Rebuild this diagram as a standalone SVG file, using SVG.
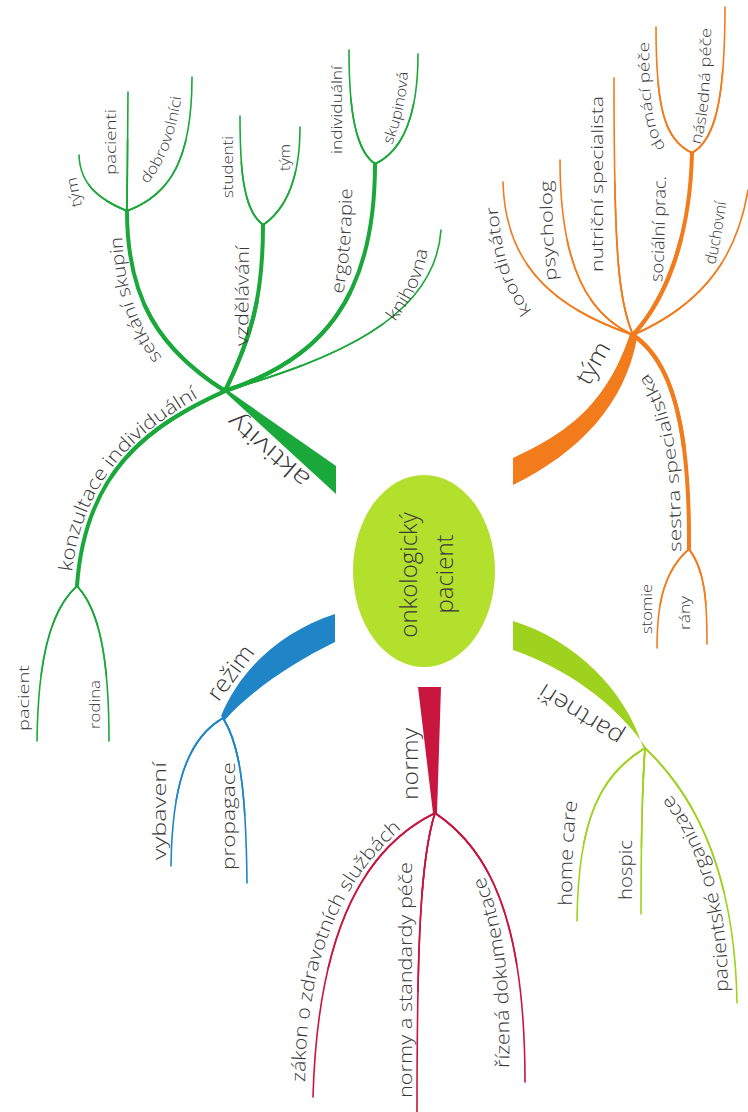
<svg xmlns="http://www.w3.org/2000/svg" xmlns:xlink="http://www.w3.org/1999/xlink" width="748" height="1112" viewBox="0 0 748 1112">
<style>
text{font-family:"Open Sans","Liberation Sans",sans-serif;fill:#3a3a3a;font-weight:300}
.br{fill:none;stroke-linecap:round}
.G{stroke:#1ba83a}.O{stroke:#f27b1b}.L{stroke:#9fd21e}.R{stroke:#c8163e}.B{stroke:#1f85c6}
.a{stroke-width:1.6}
.b{stroke-width:3;stroke-dasharray:60 300}
.c{stroke-width:4.3;stroke-dasharray:28 300}
.d{stroke-width:4}
.e{stroke-width:5.4;stroke-dasharray:55 300}
.f15{font-size:15px}.f16{font-size:16px}.f17{font-size:17px}.f18{font-size:18px}.f19{font-size:19px}.f20{font-size:20px}.f22{font-size:22px}.f24{font-size:24px}
</style>
<defs>
<path id="t-konz" d="M72,572 C84,470 145,428 208,392"/>
<path id="t-setk" d="M162,358 C138,325 124,290 122,232"/>
<path id="t-tym1" d="M82,206 L75,172"/>
<path id="t-paci" d="M116,175 L116,105"/>
<path id="t-dobr" d="M147,184 C165,165 178,130 182,90"/>
<path id="t-vzd" d="M248,346 L249,243"/>
<path id="t-stud" d="M233,198 L233,134"/>
<path id="t-tym2" d="M290,171 L290,143"/>
<path id="t-ergo" d="M343,294 C350,260 352,220 352,184"/>
<path id="t-ind" d="M342,154 L342,64"/>
<path id="t-skup" d="M392,145 C402,120 407,95 408,68"/>
<path id="t-knih" d="M395,322 C412,300 425,275 428,245"/>
<path id="t-akt" d="M322,486 L226,403"/>
<path id="t-pac" d="M29,731 L29,663"/>
<path id="t-rod" d="M100,729 L100,678"/>
<path id="t-tym" d="M587,390 L613,344"/>
<path id="t-koor" d="M532,311 C512,285 500,255 497,195"/>
<path id="t-psy" d="M557,280 C553,250 552,215 552,175"/>
<path id="t-nut" d="M603,272 L603,92"/>
<path id="t-soc" d="M662,282 C665,250 665,210 666,170"/>
<path id="t-dom" d="M666,147 C652,128 649,100 649,37"/>
<path id="t-nas" d="M700,145 C708,120 711,90 711,20"/>
<path id="t-duch" d="M715,265 C720,245 724,222 727,197"/>
<path id="t-ses" d="M681,552 C682,450 668,395 643,368"/>
<path id="t-sto" d="M652,634 L652,582"/>
<path id="t-ran" d="M690,630 L690,594"/>
<path id="t-part" d="M630,736 L540,680"/>
<path id="t-home" d="M572,906 C572,860 573,830 578,798"/>
<path id="t-hosp" d="M632,900 L632,838"/>
<path id="t-porg" d="M728,992 C728,900 705,830 662,785"/>
<path id="t-norm" d="M418,800 L418,724"/>
<path id="t-zak" d="M305,1082 C306,960 340,880 405,826"/>
<path id="t-nst" d="M412,1098 L412,858"/>
<path id="t-riz" d="M509,1068 C511,980 503,915 482,872"/>
<path id="t-rez" d="M216,706 L258,649"/>
<path id="t-vyb" d="M166,860 L166,758"/>
<path id="t-prop" d="M235,870 L235,758"/>
</defs>
<rect width="748" height="1112" fill="#ffffff"/>

<g id="connectors">
 <g id="wedges">
  <path fill="#1ba83a" d="M223,387 L336,466 L336,494 L227,394 Z"/>
  <path fill="#f27b1b" d="M513,458 C560,436 605,410 630,334 L637,338 C625,404 580,452 513,485 Z"/>
  <path fill="#9fd21e" d="M513,621 C575,640 625,690 643,747 L647,749 C615,702 565,668 513,650 Z"/>
  <path fill="#c8163e" d="M418,687 L441,687 L437,813 L433,813 Z"/>
  <path fill="#1f85c6" d="M335,614 C280,632 240,670 221,716 L225,720 C250,692 290,664 335,642 Z"/>
 </g>
 <g class="br G">
  <path id="b-konz" class="d" pathLength="100" d="M225,391 C150,425 85,470 77,586"/><use href="#b-konz" class="e"/>
  <path id="b-pac" class="a" pathLength="100" d="M77,586 C50,610 38,660 37,741"/><use href="#b-pac" class="b"/><use href="#b-pac" class="c"/>
  <path id="b-rod" class="a" pathLength="100" d="M77,586 C100,610 109,660 109,741"/><use href="#b-rod" class="b"/><use href="#b-rod" class="c"/>
  <path id="b-setk" class="d" pathLength="100" d="M225,391 C160,350 127,300 127,211"/><use href="#b-setk" class="e"/>
  <path id="b-tym1" class="a" pathLength="100" d="M127,211 C100,200 80,185 79,155"/><use href="#b-tym1" class="b"/><use href="#b-tym1" class="c"/>
  <path id="b-paci" class="a" pathLength="100" d="M127,211 L128,92"/><use href="#b-paci" class="b"/><use href="#b-paci" class="c"/>
  <path id="b-dobr" class="a" pathLength="100" d="M127,211 C170,195 192,160 192,77"/><use href="#b-dobr" class="b"/><use href="#b-dobr" class="c"/>
  <path id="b-vzd" class="d" pathLength="100" d="M225,391 C250,340 263,300 263,225"/><use href="#b-vzd" class="e"/>
  <path id="b-stud" class="a" pathLength="100" d="M263,225 C243,210 240,170 240,116"/><use href="#b-stud" class="b"/><use href="#b-stud" class="c"/>
  <path id="b-tym2" class="a" pathLength="100" d="M263,225 C285,210 300,180 300,127"/><use href="#b-tym2" class="b"/><use href="#b-tym2" class="c"/>
  <path id="b-ergo" class="d" pathLength="100" d="M225,391 C320,360 375,300 375,164"/><use href="#b-ergo" class="e"/>
  <path id="b-ind" class="a" pathLength="100" d="M375,164 C355,150 349,110 349,50"/><use href="#b-ind" class="b"/><use href="#b-ind" class="c"/>
  <path id="b-skup" class="a" pathLength="100" d="M375,164 C405,150 418,110 418,54"/><use href="#b-skup" class="b"/><use href="#b-skup" class="c"/>
  <path id="b-knih" class="a" pathLength="100" d="M225,391 C330,360 435,320 441,230"/><use href="#b-knih" class="b"/><use href="#b-knih" class="c"/>
 </g>
 <g class="br O">
  <path id="b-koor" class="a" pathLength="100" d="M633,335 C560,310 505,270 503,182"/><use href="#b-koor" class="b"/><use href="#b-koor" class="c"/>
  <path id="b-psy" class="a" pathLength="100" d="M633,335 C590,315 560,270 560,160"/><use href="#b-psy" class="b"/><use href="#b-psy" class="c"/>
  <path id="b-nut" class="a" pathLength="100" d="M633,335 C618,300 614,250 614,78"/><use href="#b-nut" class="b"/><use href="#b-nut" class="c"/>
  <path id="b-soc" class="d" pathLength="100" d="M633,335 C665,300 690,240 692,153"/><use href="#b-soc" class="e"/>
  <path id="b-dom" class="a" pathLength="100" d="M692,153 C665,140 656,110 656,27"/><use href="#b-dom" class="b"/><use href="#b-dom" class="c"/>
  <path id="b-nas" class="a" pathLength="100" d="M692,153 C715,140 725,100 725,7"/><use href="#b-nas" class="b"/><use href="#b-nas" class="c"/>
  <path id="b-duch" class="a" pathLength="100" d="M633,335 C690,310 735,270 748,190"/><use href="#b-duch" class="b"/><use href="#b-duch" class="c"/>
  <path id="b-ses" class="d" pathLength="100" d="M633,335 C670,360 690,420 689,549"/><use href="#b-ses" class="e"/>
  <path id="b-sto" class="a" pathLength="100" d="M689,549 C665,570 657,600 657,648"/><use href="#b-sto" class="b"/><use href="#b-sto" class="c"/>
  <path id="b-ran" class="a" pathLength="100" d="M689,549 C705,570 707,600 707,644"/><use href="#b-ran" class="b"/><use href="#b-ran" class="c"/>
 </g>
 <g class="br L">
  <path id="b-home" class="a" pathLength="100" d="M645,748 C600,775 578,820 577,921"/><use href="#b-home" class="b"/><use href="#b-home" class="c"/>
  <path id="b-hosp" class="a" pathLength="100" d="M645,748 C642,790 641,850 641,914"/><use href="#b-hosp" class="b"/><use href="#b-hosp" class="c"/>
  <path id="b-porg" class="a" pathLength="100" d="M645,748 C700,800 735,880 737,1003"/><use href="#b-porg" class="b"/><use href="#b-porg" class="c"/>
 </g>
 <g class="br R">
  <path id="b-zak" class="a" pathLength="100" d="M435,813 C370,845 318,920 313,1097"/><use href="#b-zak" class="b"/><use href="#b-zak" class="c"/>
  <path id="b-nst" class="a" pathLength="100" d="M435,813 C420,860 417,950 417,1112"/><use href="#b-nst" class="b"/><use href="#b-nst" class="c"/>
  <path id="b-riz" class="a" pathLength="100" d="M435,813 C490,850 525,920 525,1082"/><use href="#b-riz" class="b"/><use href="#b-riz" class="c"/>
 </g>
 <g class="br B">
  <path id="b-vyb" class="a" pathLength="100" d="M223,718 C185,740 172,790 171,866"/><use href="#b-vyb" class="b"/><use href="#b-vyb" class="c"/>
  <path id="b-prop" class="a" pathLength="100" d="M223,718 C240,745 246,790 247,883"/><use href="#b-prop" class="b"/><use href="#b-prop" class="c"/>
 </g>
</g>

<g id="node-center">
 <ellipse cx="424" cy="571" rx="71" ry="96" fill="#b3e02c"/>
 <text class="f24" text-anchor="middle" transform="translate(417,575) rotate(-90)">onkologický</text>
 <text class="f24" text-anchor="middle" transform="translate(453,574) rotate(-90)">pacient</text>
</g>

<g id="node-aktivity"><text class="f24"><textPath href="#t-akt" startOffset="50%" text-anchor="middle" textLength="100" lengthAdjust="spacingAndGlyphs">aktivity</textPath></text></g>
<g id="node-konzultace"><text class="f19"><textPath href="#t-konz" textLength="225" lengthAdjust="spacingAndGlyphs">konzultace individuální</textPath></text></g>
<g id="node-pacient"><text class="f15"><textPath href="#t-pac" textLength="66" lengthAdjust="spacingAndGlyphs">pacient</textPath></text></g>
<g id="node-rodina"><text class="f15"><textPath href="#t-rod" textLength="49" lengthAdjust="spacingAndGlyphs">rodina</textPath></text></g>
<g id="node-setkani"><text class="f18"><textPath href="#t-setk" textLength="130" lengthAdjust="spacingAndGlyphs">setkání skupin</textPath></text></g>
<g id="node-tym1"><text class="f15"><textPath href="#t-tym1" textLength="30" lengthAdjust="spacingAndGlyphs">tým</textPath></text></g>
<g id="node-pacienti"><text class="f15"><textPath href="#t-paci" textLength="66" lengthAdjust="spacingAndGlyphs">pacienti</textPath></text></g>
<g id="node-dobrovolnici"><text class="f15"><textPath href="#t-dobr" textLength="95" lengthAdjust="spacingAndGlyphs">dobrovolníci</textPath></text></g>
<g id="node-vzdelavani"><text class="f18"><textPath href="#t-vzd" textLength="100" lengthAdjust="spacingAndGlyphs">vzdělávání</textPath></text></g>
<g id="node-studenti"><text class="f15"><textPath href="#t-stud" textLength="62" lengthAdjust="spacingAndGlyphs">studenti</textPath></text></g>
<g id="node-tym2"><text class="f15"><textPath href="#t-tym2" textLength="27" lengthAdjust="spacingAndGlyphs">tým</textPath></text></g>
<g id="node-ergoterapie"><text class="f18"><textPath href="#t-ergo" textLength="106" lengthAdjust="spacingAndGlyphs">ergoterapie</textPath></text></g>
<g id="node-individualni"><text class="f15"><textPath href="#t-ind" textLength="88" lengthAdjust="spacingAndGlyphs">individuální</textPath></text></g>
<g id="node-skupinova"><text class="f15"><textPath href="#t-skup" textLength="75" lengthAdjust="spacingAndGlyphs">skupinová</textPath></text></g>
<g id="node-knihovna"><text class="f18"><textPath href="#t-knih" textLength="80" lengthAdjust="spacingAndGlyphs">knihovna</textPath></text></g>

<g id="node-tym"><text class="f24"><textPath href="#t-tym" startOffset="50%" text-anchor="middle" textLength="45" lengthAdjust="spacingAndGlyphs">tým</textPath></text></g>
<g id="node-koordinator"><text class="f17"><textPath href="#t-koor" textLength="112" lengthAdjust="spacingAndGlyphs">koordinátor</textPath></text></g>
<g id="node-psycholog"><text class="f17"><textPath href="#t-psy" textLength="100" lengthAdjust="spacingAndGlyphs">psycholog</textPath></text></g>
<g id="node-nutricni"><text class="f16"><textPath href="#t-nut" textLength="176" lengthAdjust="spacingAndGlyphs">nutriční specialista</textPath></text></g>
<g id="node-socialni"><text class="f17"><textPath href="#t-soc" textLength="106" lengthAdjust="spacingAndGlyphs">sociální prac.</textPath></text></g>
<g id="node-domaci"><text class="f15"><textPath href="#t-dom" textLength="108" lengthAdjust="spacingAndGlyphs">domácí péče</textPath></text></g>
<g id="node-nasledna"><text class="f15"><textPath href="#t-nas" textLength="118" lengthAdjust="spacingAndGlyphs">následná péče</textPath></text></g>
<g id="node-duchovni"><text class="f16"><textPath href="#t-duch" textLength="64" lengthAdjust="spacingAndGlyphs">duchovní</textPath></text></g>
<g id="node-sestra"><text class="f17"><textPath href="#t-ses" textLength="185" lengthAdjust="spacingAndGlyphs">sestra specialistka</textPath></text></g>
<g id="node-stomie"><text class="f15"><textPath href="#t-sto" textLength="50" lengthAdjust="spacingAndGlyphs">stomie</textPath></text></g>
<g id="node-rany"><text class="f15"><textPath href="#t-ran" textLength="34" lengthAdjust="spacingAndGlyphs">rány</textPath></text></g>

<g id="node-partneri"><text class="f24"><textPath href="#t-part" startOffset="50%" text-anchor="middle" textLength="95" lengthAdjust="spacingAndGlyphs">partneři</textPath></text></g>
<g id="node-homecare"><text class="f19"><textPath href="#t-home" textLength="105" lengthAdjust="spacingAndGlyphs">home care</textPath></text></g>
<g id="node-hospic"><text class="f19"><textPath href="#t-hosp" textLength="60" lengthAdjust="spacingAndGlyphs">hospic</textPath></text></g>
<g id="node-pacorg"><text class="f19"><textPath href="#t-porg" textLength="210" lengthAdjust="spacingAndGlyphs">pacientské organizace</textPath></text></g>

<g id="node-normy"><text class="f22"><textPath href="#t-norm" textLength="72" lengthAdjust="spacingAndGlyphs">normy</textPath></text></g>
<g id="node-zakon"><text class="f19"><textPath href="#t-zak" textLength="280" lengthAdjust="spacingAndGlyphs">zákon o zdravotních službách</textPath></text></g>
<g id="node-normystd"><text class="f19"><textPath href="#t-nst" textLength="236" lengthAdjust="spacingAndGlyphs">normy a standardy péče</textPath></text></g>
<g id="node-rizena"><text class="f19"><textPath href="#t-riz" textLength="195" lengthAdjust="spacingAndGlyphs">řízená dokumentace</textPath></text></g>

<g id="node-rezim"><text class="f24"><textPath href="#t-rez" startOffset="50%" text-anchor="middle" textLength="62" lengthAdjust="spacingAndGlyphs">režim</textPath></text></g>
<g id="node-vybaveni"><text class="f18"><textPath href="#t-vyb" textLength="98" lengthAdjust="spacingAndGlyphs">vybavení</textPath></text></g>
<g id="node-propagace"><text class="f18"><textPath href="#t-prop" textLength="108" lengthAdjust="spacingAndGlyphs">propagace</textPath></text></g>
</svg>
